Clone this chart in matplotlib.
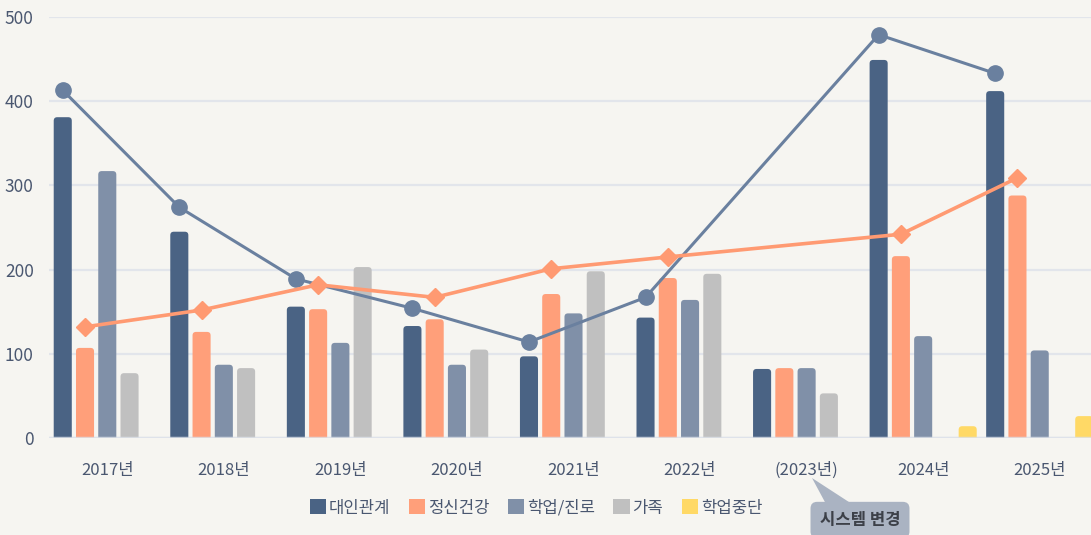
import numpy as np
import matplotlib.pyplot as plt
from matplotlib.patches import Patch, Polygon, FancyBboxPatch

plt.rcParams['font.family'] = ['Noto Sans CJK KR', 'DejaVu Sans']

years = ['2017년', '2018년', '2019년', '2020년', '2021년', '2022년', '(2023년)', '2024년', '2025년']
series_names = ['대인관계', '정신건강', '학업/진로', '가족', '학업중단']

# bar values (None = not shown)
relation = [381, 245, 156, 133, 97, 143, 82, 449, 412]
mental = [107, 126, 153, 141, 171, 190, 83, 216, 288]
career = [317, 87, 113, 87, 148, 164, 83, 121, 104]
family = [77, 83, 203, 105, 198, 195, 53, None, None]
dropout = [None, None, None, None, None, None, None, 14, 26]

# line values (2023 has no point)
line_blue = [413, 274, 189, 154, 114, 167, None, 479, 433]
line_orange = [132, 152, 182, 167, 201, 215, None, 242, 309]

colors = ['#4a6384', '#ff9f7a', '#8090a8', '#c0c0c0', '#ffd966']
blue_line_color = '#6a809f'
orange_line_color = '#ff9a72'
bg = '#f6f5f1'
text_color = '#4a5770'

W, H = 1091, 535
fig = plt.figure(figsize=(W / 100, H / 100), dpi=100, facecolor=bg)
ax = fig.add_axes([49 / W, (H - 438) / H, 1049 / W, 421 / H])
ax.set_facecolor(bg)
ax.set_xlim(-0.5, len(years) - 0.5)
ax.set_ylim(0, 500)

x = np.arange(len(years))
step = 0.191
width = 0.155
# px per data unit, used to keep the rounded corners circular
px_x = 1049 / len(years)
px_y = 421 / 500
r = 3.5 / px_x
all_series = [relation, mental, career, family, dropout]
for k, vals in enumerate(all_series):
    for xi, v in zip(x, vals):
        if v is None:
            continue
        left = xi + (k - 2) * step - width / 2
        # start a little below zero so the bottom corners are clipped
        box = FancyBboxPatch((left, -8), width, v + 8,
                             boxstyle=f'round,pad=0,rounding_size={r}',
                             mutation_aspect=px_x / px_y,
                             facecolor=colors[k], edgecolor='none', zorder=3)
        ax.add_patch(box)

bx = [xi - 2 * step for xi, v in zip(x, line_blue) if v is not None]
by = [v for v in line_blue if v is not None]
ax.plot(bx, by, color=blue_line_color, lw=2.2, marker='o', ms=11, zorder=5)

ox = [xi - 1 * step for xi, v in zip(x, line_orange) if v is not None]
oy = [v for v in line_orange if v is not None]
ax.plot(ox, oy, color=orange_line_color, lw=2.6, marker='D', ms=9, zorder=5)

ax.set_yticks([0, 100, 200, 300, 400, 500])
ax.set_xticks(x)
ax.set_xticklabels(years)
ax.grid(axis='y', color='#e2e5eb', lw=1.6, zorder=0)
ax.axhline(0, color='#dde2ea', lw=2.5, alpha=0.8, zorder=4)
for s in ax.spines.values():
    s.set_visible(False)
ax.tick_params(axis='y', length=0, pad=11, labelsize=12.5, labelcolor=text_color)
ax.tick_params(axis='x', length=0, pad=17, labelsize=12, labelcolor=text_color)

handles = [Patch(facecolor=c, edgecolor='none') for c in colors]
fig.legend(handles, series_names, loc='center', bbox_to_anchor=(536 / W, 1 - 508 / H),
           ncol=5, frameon=False, fontsize=12, handlelength=1.0, handleheight=1.0,
           handletextpad=0.15, columnspacing=1.1, labelcolor=text_color)

# callout
def fp(px, py):
    return (px / W, 1 - py / H)

tri = Polygon([fp(812, 478), fp(826, 504), fp(852, 504)], closed=True,
              transform=fig.transFigure, facecolor='#aab3c2', edgecolor='none')
fig.patches.append(tri)
fig.text(860 / W, 1 - 520 / H, '시스템 변경', ha='center', va='center', fontsize=12,
         fontweight='bold', color='#3c4048',
         bbox=dict(boxstyle='round,pad=0.55,rounding_size=0.4', facecolor='#aab3c2', edgecolor='none'))

fig.savefig('out.png', dpi=100, facecolor=bg)
